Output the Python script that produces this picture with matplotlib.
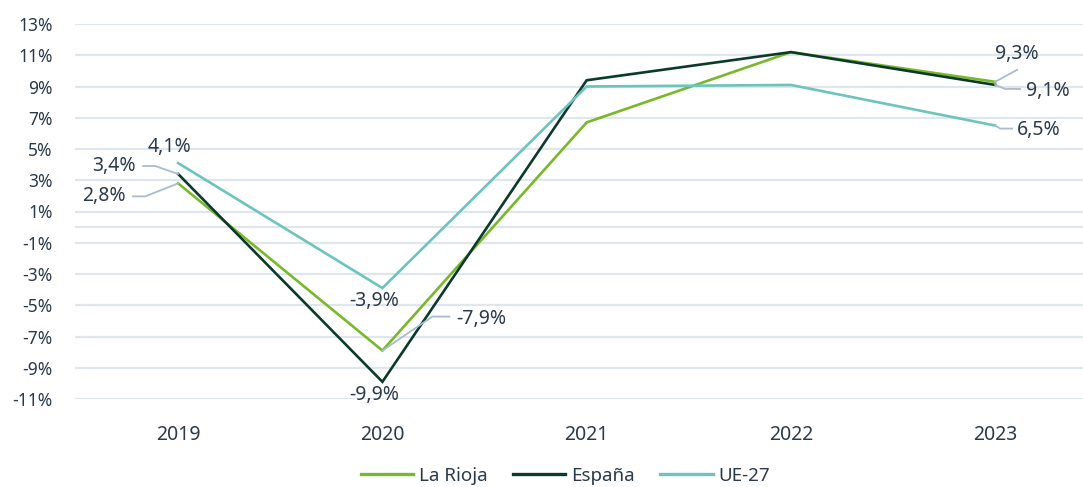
import matplotlib
matplotlib.use("Agg")
import matplotlib.pyplot as plt
from matplotlib.lines import Line2D
from matplotlib.transforms import IdentityTransform
import numpy as np

years = ["2019", "2020", "2021", "2022", "2023"]
la_rioja = [2.8, -7.9, 6.7, 11.2, 9.3]
espana = [3.4, -9.9, 9.4, 11.2, 9.1]
ue27 = [4.1, -3.9, 9.0, 9.1, 6.5]
y_ticks = [13, 11, 9, 7, 5, 3, 1, -1, -3, -5, -7, -9, -11]

C_RIOJA = "#78b82a"
C_ESP = "#0b3a2c"
C_UE = "#6cc4bc"
C_TEXT = "#2b3a4a"
C_GRID = "#dfe6ee"
C_LEAD = "#a9bccf"

plt.rcParams['font.family'] = ['Noto Sans', 'DejaVu Sans']

DPI = 100
LBL = 14
fig = plt.figure(figsize=(10.83, 4.87), dpi=DPI)
ax = fig.add_axes([75/1083, 1-399/487, 1-75/1083, (399-24)/487])

x = np.arange(len(years))
for vals, col, lab in [(la_rioja, C_RIOJA, "La Rioja"), (espana, C_ESP, "España"), (ue27, C_UE, "UE-27")]:
    ax.plot(x, vals, color=col, lw=1.9, label=lab, zorder=3, solid_joinstyle='miter')

ax.set_xlim(-0.505, 4.43)
ax.set_ylim(-11, 13)
ax.set_yticks(y_ticks)
ax.set_yticklabels([f"{t}%" for t in y_ticks])
ax.set_xticks(x)
ax.set_xticklabels(years)
for yt in y_ticks + [0]:
    ax.axhline(yt, color=C_GRID, lw=1.6, zorder=1)
for s in ax.spines.values():
    s.set_visible(False)
ax.tick_params(axis='both', length=0, colors=C_TEXT, labelsize=12.5)
ax.tick_params(axis='x', labelsize=14, pad=19)
ax.tick_params(axis='y', pad=16)

fmt = lambda v: f"{v:.1f}".replace(".", ",") + "%"

def leader(ix, v, offs):
    """offs: list of pixel offsets (dx, dy up) from the data point."""
    p = ax.transData.transform((ix, v))
    xs = [p[0]] + [p[0] + dx for dx, dy in offs]
    ys = [p[1]] + [p[1] + dy for dx, dy in offs]
    ln = Line2D(xs, ys, transform=IdentityTransform(), color=C_LEAD, lw=1.3, zorder=2)
    fig.add_artist(ln)
    return xs[-1], ys[-1]

def text_px(px, py, s, ha, va):
    fig.text(px / fig.bbox.width, py / fig.bbox.height, s, ha=ha, va=va,
             color=C_TEXT, fontsize=LBL)

# 2019
p = ax.transData.transform((0, ue27[0]))
text_px(p[0] - 9, p[1] + 6, fmt(ue27[0]), 'center', 'bottom')
ex, ey = leader(0, espana[0], [(-23, 8), (-35, 8)])
text_px(ex - 7, ey, fmt(espana[0]), 'right', 'center')
ex, ey = leader(0, la_rioja[0], [(-33, -13), (-45, -13)])
text_px(ex - 7, ey, fmt(la_rioja[0]), 'right', 'center')

# 2020
p = ax.transData.transform((1, ue27[1]))
text_px(p[0] - 8, p[1] - 3, fmt(ue27[1]), 'center', 'top')
p = ax.transData.transform((1, espana[1]))
text_px(p[0] - 8, p[1] - 3, fmt(espana[1]), 'center', 'top')
ex, ey = leader(1, la_rioja[1], [(50, 34), (67, 34)])
text_px(ex + 7, ey - 2, fmt(la_rioja[1]), 'left', 'center')

# 2023
ex, ey = leader(4, la_rioja[4], [(22, 12)])
p = ax.transData.transform((4, la_rioja[4]))
text_px(p[0] + 22, p[1] + 18, fmt(la_rioja[4]), 'center', 'bottom')
ex, ey = leader(4, espana[4], [(10, -4), (25, -4)])
text_px(ex + 6, ey - 2, fmt(espana[4]), 'left', 'center')
ex, ey = leader(4, ue27[4], [(5, -3), (17, -3)])
text_px(ex + 5, ey - 1, fmt(ue27[4]), 'left', 'center')

leg = fig.legend(loc='lower center', bbox_to_anchor=(0.522, -0.03), ncol=3, frameon=False,
                 fontsize=13.5, handlelength=2.8, columnspacing=1.35, handletextpad=0.3)
for t in leg.get_texts():
    t.set_color(C_TEXT)
for h in leg.get_lines():
    h.set_linewidth(2.4)

fig.savefig("out.png", dpi=DPI)
